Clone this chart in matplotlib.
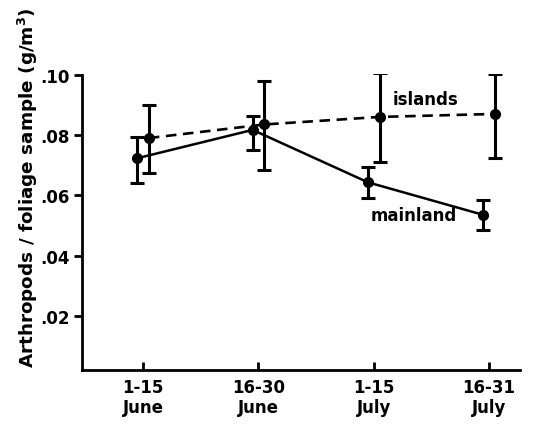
import matplotlib.pyplot as plt

periods = ["1-15\nJune", "16-30\nJune", "1-15\nJuly", "16-31\nJuly"]
x_pos = [0, 1, 2, 3]

mainland = [0.0723, 0.0817, 0.0643, 0.0535]
mainland_hi = [0.0793, 0.0862, 0.0695, 0.0585]
mainland_lo = [0.0640, 0.0750, 0.0590, 0.0485]

islands = [0.0790, 0.0835, 0.0860, 0.0870]
islands_hi = [0.0900, 0.0980, 0.1005, 0.1003]
islands_lo = [0.0675, 0.0685, 0.0710, 0.0725]

plt.rcParams["font.family"] = ["DejaVu Sans"]
plt.rcParams["font.weight"] = "bold"

fig = plt.figure(figsize=(5.43, 4.27), dpi=100)
ax = fig.add_axes([0.151, 0.131, 0.807, 0.693])

mx = [x - 0.05 for x in x_pos]
ix = [x + 0.05 for x in x_pos]

ax.errorbar(mx, mainland,
            yerr=[[m - l for m, l in zip(mainland, mainland_lo)],
                  [h - m for m, h in zip(mainland, mainland_hi)]],
            fmt="o-", color="black", lw=1.8, ms=7, elinewidth=2.2,
            capsize=5, capthick=2.2)
ax.errorbar(ix, islands,
            yerr=[[m - l for m, l in zip(islands, islands_lo)],
                  [h - m for m, h in zip(islands, islands_hi)]],
            fmt="o--", color="black", lw=1.9, ms=7, elinewidth=2.2,
            capsize=5, capthick=2.2, dashes=(4, 2.5))

ax.text(2.45, 0.092, "islands", fontsize=12, fontweight="bold", ha="center", va="center")
ax.text(2.35, 0.0535, "mainland", fontsize=12, fontweight="bold", ha="center", va="center")

ax.set_xlim(-0.53, 3.27)
ax.set_ylim(0.002, 0.1002)
ax.set_xticks(x_pos)
ax.set_xticklabels(periods, fontsize=12, fontweight="bold", linespacing=1.1)
ax.set_yticks([0.02, 0.04, 0.06, 0.08, 0.10])
ax.set_yticklabels([".02", ".04", ".06", ".08", ".10"], fontsize=12, fontweight="bold")
ax.tick_params(axis="x", direction="in", length=6, width=2, pad=6)
ax.tick_params(axis="y", direction="out", length=6, width=2, pad=3)

ax.spines["top"].set_visible(False)
ax.spines["right"].set_visible(False)
ax.spines["left"].set_linewidth(2)
ax.spines["bottom"].set_linewidth(2)
ax.spines["left"].set_bounds(0.002, 0.1)

ax.set_ylabel("Arthropods / foliage sample (g/m$^3$)", fontsize=13.2, fontweight="bold")
ax.yaxis.set_label_coords(-0.095, 0.62)

fig.savefig("out.png", dpi=100)
